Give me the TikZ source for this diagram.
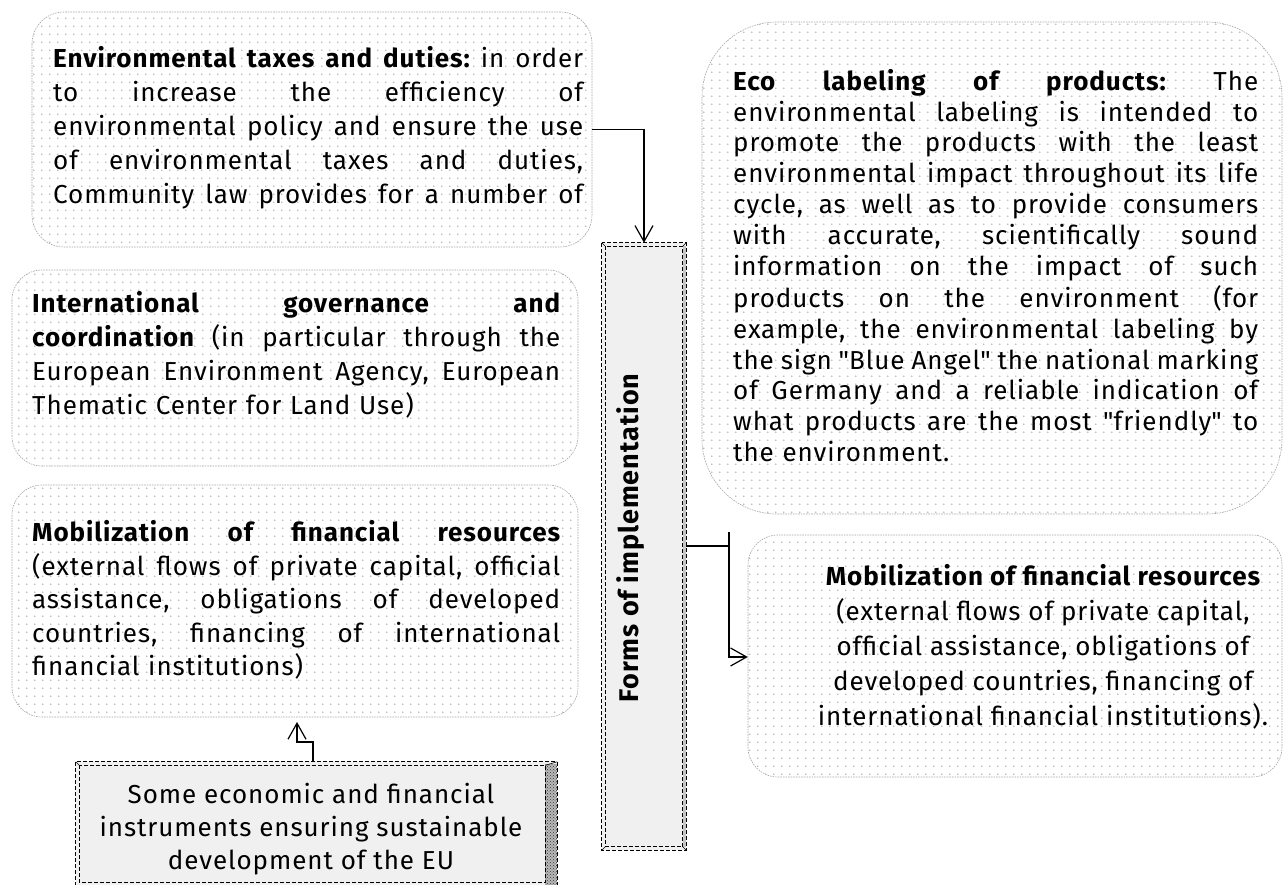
\documentclass[tikz,border=0pt]{standalone}
\usepackage{fontspec}
\setmainfont{Fira Sans}[LetterSpace=3.6]
\usetikzlibrary{arrows.meta,patterns,patterns.meta}
\tikzdeclarepattern{
  name=gdots,
  type=uncolored,
  bounding box={(0pt,0pt) and (7.7pt,7.7pt)},
  tile size={(7.7pt,7.7pt)},
  code={\fill (3.85pt,3.85pt) circle (0.9pt);}
}
\newcommand\jl[2][530pt]{{\frenchspacing\spaceskip=0.25em plus 1fil\makebox[#1][s]{#2}}}
\newcommand\qq{\textquotedbl}
\tikzset{
  dotbox/.style={draw=gray!70, line width=0.6pt, dash pattern=on 1.6pt off 1pt,
    pattern=gdots, pattern color=gray!55, inner sep=0pt},
  txt/.style={inner sep=0pt, anchor=north west, align=left},
  framebox/.style={fill=gray!12, inner sep=0pt},
  fdash/.style={draw=black, line width=0.8pt, dash pattern=on 4pt off 2pt},
  conn/.style={line width=1.5pt, black},
  tip/.style={-{Straight Barb[length=16pt,width=18pt,line width=1.2pt]}}
}
\begin{document}
\begin{tikzpicture}[x=1pt,y=-1pt]
\useasboundingbox (0,0) rectangle (1283,885);
% dotted rounded boxes
\draw[dotbox, rounded corners=32pt] (32,12) rectangle (592,247);
\node[inner sep=0pt, minimum width=560pt, minimum height=235pt] (A) at (312,129.5) {};
\draw[dotbox, rounded corners=30pt] (12,270) rectangle (578,466);
\node[inner sep=0pt, minimum width=566pt, minimum height=196pt] (B) at (295,368) {};
\draw[dotbox, rounded corners=30pt] (12,485) rectangle (578,717);
\node[inner sep=0pt, minimum width=566pt, minimum height=232pt] (C) at (295,601) {};
\draw[dotbox, rounded corners=75pt] (702,22) rectangle (1282,514);
\node[inner sep=0pt, minimum width=580pt, minimum height=492pt] (D) at (992,268) {};
\draw[dotbox, rounded corners=30pt] (748,535) rectangle (1282,777);
\node[inner sep=0pt, minimum width=534pt, minimum height=242pt] (E) at (1015,656) {};

% texts
\node[txt, text width=530pt, font=\fontsize{26}{34}\selectfont] (Atext) at (53,43.2) {%
\strut\jl{{\bfseries Environmental taxes and duties:} in order}\\
\strut\jl{to increase the efficiency of}\\
\strut\jl{environmental policy and ensure the use}\\
\strut\jl{of environmental taxes and duties,}\\
\strut\jl{Community law provides for a number of}};

\node[txt, text width=528pt, font=\fontsize{26}{34}\selectfont] (Btext) at (32,288.2) {%
\strut\jl[528pt]{{\bfseries International governance and}}\\
\strut\jl[528pt]{{\bfseries coordination} (in particular through the}\\
\strut\jl[528pt]{European Environment Agency, European}\\
\strut Thematic Center for Land Use)};

\node[txt, text width=528pt, font=\fontsize{26}{33.5}\selectfont] (Ctext) at (32,518) {%
\strut\jl[528pt]{{\bfseries Mobilization of financial resources}}\\
\strut\jl[528pt]{(external flows of private capital, official}\\
\strut\jl[528pt]{assistance, obligations of developed}\\
\strut\jl[528pt]{countries, financing of international}\\
\strut financial institutions)};

\node[txt, text width=525pt, font=\fontsize{26}{30.83}\selectfont] (Dtext) at (733,68.4) {%
\strut\jl[525pt]{{\bfseries Eco labeling of products:} The}\\
\strut\jl[525pt]{environmental labeling is intended to}\\
\strut\jl[525pt]{promote the products with the least}\\
\strut\jl[525pt]{environmental impact throughout its life}\\
\strut\jl[525pt]{cycle, as well as to provide consumers}\\
\strut\jl[525pt]{with accurate, scientifically sound}\\
\strut\jl[525pt]{information on the impact of such}\\
\strut\jl[525pt]{products on the environment (for}\\
\strut\jl[525pt]{example, the environmental labeling by}\\
\strut\jl[525pt]{the sign \qq Blue Angel\qq{} the national marking}\\
\strut\jl[525pt]{of Germany and a reliable indication of}\\
\strut\jl[525pt]{what products are the most \qq friendly\qq{} to}\\
\strut the environment.};

\node[inner sep=0pt, font=\fontsize{26}{35}\selectfont, anchor=north, align=center] (Etext) at (1043,560.5) {%
\strut{\bfseries Mobilization of financial resources}\\
\strut(external flows of private capital,\\
\strut official assistance, obligations of\\
\strut developed countries, financing of\\
\strut international financial institutions).};

% Forms of implementation box
\node[framebox, minimum width=84pt, minimum height=607pt] (F) at (644,546.5) {};
\fill[gray!45] ([xshift=-3.5pt,yshift=-3.5pt]F.north east) rectangle ([yshift=3.5pt]F.south east);
\draw[fdash] (F.north west) rectangle (F.south east);
\draw[fdash] ([shift={(3.5pt,-3.5pt)}]F.north west) rectangle ([shift={(-3.5pt,3.5pt)}]F.south east);
\draw[black, line width=0.6pt] (F.north west) -- ([shift={(3.5pt,-3.5pt)}]F.north west)
  (F.north east) -- ([shift={(-3.5pt,-3.5pt)}]F.north east)
  (F.south west) -- ([shift={(3.5pt,3.5pt)}]F.south west)
  (F.south east) -- ([shift={(-3.5pt,3.5pt)}]F.south east);
\node[inner sep=0pt, font=\fontsize{27}{30}\selectfont\bfseries, rotate=90, anchor=base west] (Ftext) at (638,703) {Forms of implementation};

% Some economic box
\node[framebox, minimum width=481pt, minimum height=124pt] (S) at (316.5,824) {};
\fill[gray!55] (545,764) rectangle (557,885);
\fill[pattern=crosshatch dots, pattern color=black!80] (545,764) rectangle (557,885);
\draw[fdash] (S.north west) rectangle (S.south east);
\draw[fdash] ([shift={(3.5pt,-3.5pt)}]S.north west) rectangle ([shift={(-12pt,3.5pt)}]S.south east);
\draw[black, line width=0.6pt] (S.north west) -- ([shift={(3.5pt,-3.5pt)}]S.north west)
  (S.north east) -- ([shift={(-12pt,-3.5pt)}]S.north east);
\node[inner sep=0pt, font=\fontsize{26}{33}\selectfont, anchor=north, align=center] (Stext) at (311,779.9) {%
\strut Some economic and financial\\
\strut instruments ensuring sustainable\\
\strut development of the EU};

% connectors
\draw[conn, tip] (A.east) -| (F.north);
\coordinate (j) at (729,546);
\coordinate (jt) at (729,532);
\coordinate (jb) at (729,657);
\draw[conn] (F.east |- j) -- (j);
\draw[conn, line width=2pt, tip] (jt) -- (jb) -- (E.west |- jb);
\coordinate (s1) at (313,742);
\coordinate (s2) at (297,742);
\coordinate (s3) at (297,722);
\draw[conn, tip] (S.north -| s1) -- (s1) -- (s2) -- (s3);
\end{tikzpicture}
\end{document}
